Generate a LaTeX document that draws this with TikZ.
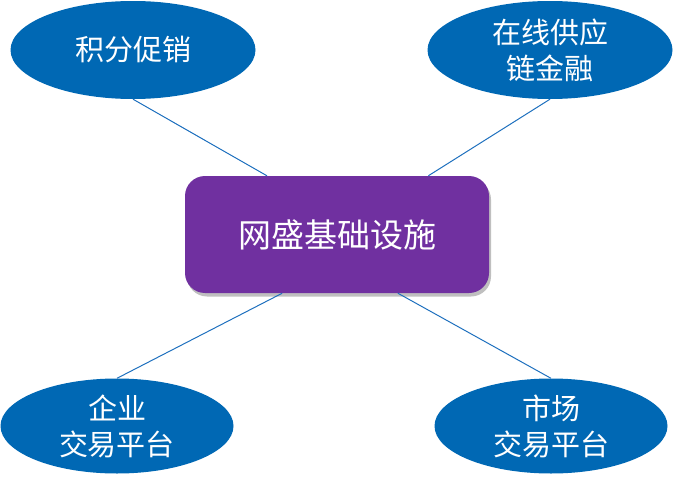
\documentclass[tikz,border=0pt]{standalone}
\usepackage{fontspec}
\setmainfont{Noto Sans CJK SC}
\usetikzlibrary{shapes.geometric,shadows,calc}
\definecolor{ellblue}{RGB}{0,104,180}
\definecolor{boxpurple}{RGB}{112,48,160}
\definecolor{linkblue}{RGB}{30,112,190}
\begin{document}
\begin{tikzpicture}[x=1pt,y=-1pt,
  topic/.style={ellipse,fill=ellblue,draw=none,text=white,inner sep=0pt,
    minimum width=245pt,minimum height=98pt,align=center,
    font=\fontsize{29}{36}\selectfont},
  hub/.style={rectangle,rounded corners=20pt,fill=boxpurple,draw=none,text=white,
    minimum width=304pt,minimum height=117pt,
    font=\fontsize{33}{40}\selectfont,
    drop shadow={opacity=0.5,shadow xshift=2pt,shadow yshift=-3.5pt}},
  link/.style={draw=linkblue,line width=1pt}]
\useasboundingbox (0,0) rectangle (673,479);
\node[hub] (hub) at (337,234.5) {网盛基础设施};
\node[topic] (e1) at (133,50) {积分促销};
\node[topic] (e2) at (550,50) {在线供应\\链金融};
\node[topic,minimum width=233pt,minimum height=95pt] (e3) at (117,426) {企业\\交易平台};
\node[topic,minimum width=233pt,minimum height=95pt] (e4) at (551,426) {市场\\交易平台};
\coordinate (h1) at ($(hub.north west)!0.27!(hub.north east)$);
\coordinate (h2) at ($(hub.north west)!0.80!(hub.north east)$);
\coordinate (h3) at ($(hub.south west)!0.32!(hub.south east)$);
\coordinate (h4) at ($(hub.south west)!0.70!(hub.south east)$);
\draw[link] (e1.south) -- (h1);
\draw[link] (e2.south) -- (h2);
\draw[link] (e3.north) -- (h3);
\draw[link] (e4.north) -- (h4);
\end{tikzpicture}
\end{document}
